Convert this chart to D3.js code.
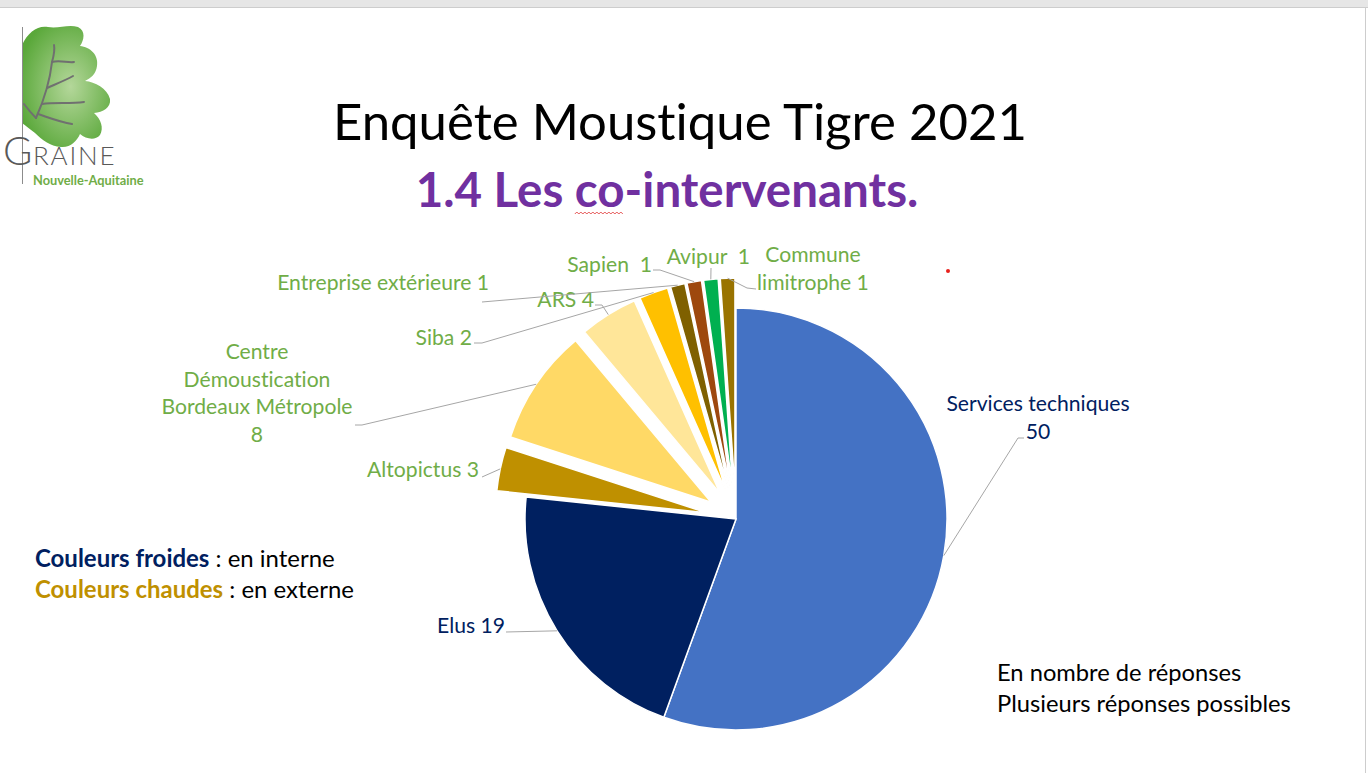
<!DOCTYPE html>
<html>
<head>
<meta charset="utf-8">
<script src="https://cdn.jsdelivr.net/npm/d3@7"></script>
<style>
html, body { margin: 0; padding: 0; background: #fff; overflow: hidden; }
svg { display: block; }
text { font-variant-ligatures: none; font-feature-settings: "liga" 0, "clig" 0, "dlig" 0; }
</style>
</head>
<body>
<svg id="chart" width="1368" height="773"></svg>
<script>
// ---- data ----
const categories = ["Services techniques", "Elus", "Altopictus", "Centre Démoustication Bordeaux Métropole",
  "ARS", "Siba", "Entreprise extérieure", "Sapien", "Avipur", "Commune limitrophe"];
const values = [50, 19, 3, 8, 4, 2, 1, 1, 1, 1];
const labelNames = [["Services techniques"], ["Elus"], ["Altopictus"], ["Centre", "Démoustication", "Bordeaux Métropole"],
  ["ARS"], ["Siba"], ["Entreprise extérieure"], ["Sapien "], ["Avipur "], ["Commune", "limitrophe"]];
const valueOnOwnLine = [true, false, false, true, false, false, false, false, false, false];
const internal = [true, true, false, false, false, false, false, false, false, false];

const titleText = "Enquête Moustique Tigre 2021";
const subtitleText = "1.4 Les co-intervenants.";
const noteLines = ["En nombre de réponses", "Plusieurs réponses possibles"];

// ---- layout ----
const W = 1368, H = 773;
const cx = 736, cy = 519, R = 211, explode = 30;
const FONT = "Lato, 'Open Sans', sans-serif";

const color = d3.scaleOrdinal()
  .domain(categories)
  .range(["#4472C4", "#002060", "#BF9000", "#FFD966", "#FFE699", "#FFC000", "#7F6000", "#9E480E", "#00B050", "#997300"]);

// label placement: anchor, x, first baseline, elbow points near the text
const labelLayout = [
  { anchor: "middle", x: 1038, y: 411, pts: [[1024, 438], [1018, 438]] },
  { anchor: "end",    x: 505,  y: 633, pts: [[506, 632]] },
  { anchor: "end",    x: 479,  y: 477, pts: [[482, 477]] },
  { anchor: "middle", x: 257,  y: 359, pts: [[355, 425], [362, 425]] },
  { anchor: "end",    x: 594,  y: 307, pts: [[595, 305], [602, 305]] },
  { anchor: "end",    x: 472,  y: 345, pts: [[474, 343], [482, 343]] },
  { anchor: "end",    x: 489,  y: 290, pts: [[482, 302]] },
  { anchor: "end",    x: 652,  y: 272, pts: [[653, 270], [660, 270]] },
  { anchor: "end",    x: 750,  y: 264, pts: [[711, 268]] },
  { anchor: "middle", x: 813,  y: 262, pts: [[756, 289], [747, 288]] }
];
const lineH = 27.5;

const svg = d3.select("#chart");
svg.append("rect").attr("width", W).attr("height", H).attr("fill", "#fff");

// window chrome
svg.append("rect").attr("x", 0).attr("y", 0).attr("width", W).attr("height", 7).attr("fill", "#e6e6e6");
svg.append("line").attr("x1", 0).attr("x2", W).attr("y1", 7.5).attr("y2", 7.5).attr("stroke", "#cdcdcd");
svg.append("line").attr("x1", 1365.5).attr("x2", 1365.5).attr("y1", 7).attr("y2", H).attr("stroke", "#cdcdcd");

// helper: font size so a string reaches a target width
function fitSize(str, target, weight) {
  const t = svg.append("text").attr("font-family", FONT).attr("font-weight", weight || 400)
    .attr("font-size", 100).text(str);
  const w = t.node().getComputedTextLength();
  t.remove();
  return 100 * target / w;
}

// ---- logo ----
const logo = svg.append("g");
const grad = svg.append("defs").append("radialGradient").attr("id", "leafGrad")
  .attr("cx", "55%").attr("cy", "50%").attr("r", "60%");
grad.append("stop").attr("offset", "0%").attr("stop-color", "#b4d79a");
grad.append("stop").attr("offset", "100%").attr("stop-color", "#5aa83a");
logo.append("path")
  .attr("d", "M22,45 C28,32 38,25 48,27 C58,29 68,24 78,27 C86,31 84,40 80,46 C90,47 99,55 97,66 C96,74 91,78 85,81 C95,82 107,88 110,99 C111,108 103,112 94,113 C101,119 104,128 100,135 C95,141 86,139 80,134 C77,141 70,148 61,147 C50,146 42,140 35,133 C30,129 26,126 22,123 Z")
  .attr("fill", "url(#leafGrad)");
logo.append("line").attr("x1", 22.5).attr("x2", 22.5).attr("y1", 27).attr("y2", 184)
  .attr("stroke", "#8c8c8c").attr("stroke-width", 1);
const vein = "#707070";
[
  "M36,118 C44,100 50,80 52,62 C54,55 55,50 54,45",
  "M52,62 C60,60 68,63 74,62",
  "M47,88 C56,84 66,80 73,76",
  "M42,104 C55,102 70,104 84,102",
  "M38,114 C50,118 60,122 72,124",
  "M36,118 C30,112 27,108 24,104"
].forEach(d => logo.append("path").attr("d", d).attr("fill", "none")
  .attr("stroke", vein).attr("stroke-width", 2).attr("stroke-linecap", "round"));
logo.append("text").attr("x", 3).attr("y", 165).attr("font-family", FONT).attr("font-weight", 300)
  .attr("font-size", 40).attr("fill", "#595959").text("G");
logo.append("text").attr("x", 33).attr("y", 165).attr("font-family", FONT).attr("font-weight", 300)
  .attr("font-size", 26).attr("fill", "#595959").attr("letter-spacing", 1.8).text("RAINE");
logo.append("text").attr("x", 33).attr("y", 185).attr("font-family", FONT).attr("font-weight", 700)
  .attr("font-size", 12.8).attr("fill", "#70AD47").text("Nouvelle-Aquitaine");

// ---- titles ----
svg.append("text").attr("x", 680).attr("y", 140).attr("text-anchor", "middle")
  .attr("font-family", FONT).attr("font-size", fitSize(titleText, 694)).attr("fill", "#000")
  .text(titleText);
const sub = svg.append("text").attr("x", 667).attr("y", 207).attr("text-anchor", "middle")
  .attr("font-family", FONT).attr("font-weight", 700).attr("font-size", fitSize(subtitleText, 503, 700))
  .attr("fill", "#7030A0").text(subtitleText);

// spell-check squiggle under "co"
{
  const n = sub.node();
  const i0 = subtitleText.indexOf("co");
  const p0 = n.getStartPositionOfChar(i0);
  const len = n.getSubStringLength(i0, 2);
  const pts = d3.range(0, Math.floor(len / 2) + 1).map(k => [p0.x + k * 2, 213 + (k % 2 ? -1 : 1)]);
  svg.append("path").attr("d", d3.line()(pts)).attr("fill", "none").attr("stroke", "#e03030").attr("stroke-width", 0.8);
}
svg.append("circle").attr("cx", 948).attr("cy", 271).attr("r", 2).attr("fill", "#e8201c");

// ---- pie ----
const pie = d3.pie().sort(null).value(d => d.value).startAngle(0).endAngle(2 * Math.PI);
const arcs = pie(categories.map((c, i) => ({ name: c, value: values[i], i })));
const arc = d3.arc().innerRadius(0).outerRadius(R);
const offsetOf = d => {
  const mid = (d.startAngle + d.endAngle) / 2;
  const e = internal[d.data.i] ? 0 : explode;
  return [e * Math.sin(mid), -e * Math.cos(mid)];
};

const g = svg.append("g").attr("transform", `translate(${cx},${cy})`);
g.selectAll("path.slice")
  .data(arcs)
  .enter()
  .append("path")
  .attr("class", "slice")
  .attr("transform", d => `translate(${offsetOf(d)})`)
  .attr("d", arc)
  .attr("fill", d => color(d.data.name))
  .attr("stroke", "#fff")
  .attr("stroke-width", 1.5);

// leader lines and labels
const labelFs = fitSize("Entreprise extérieure 1", 212);
arcs.forEach(d => {
  const i = d.data.i;
  const mid = (d.startAngle + d.endAngle) / 2;
  const [ox, oy] = offsetOf(d);
  const start = [cx + ox + R * Math.sin(mid), cy + oy - R * Math.cos(mid)];
  const L = labelLayout[i];
  const pts = L.pts.concat([start]);
  svg.append("path").attr("d", d3.line()(pts)).attr("fill", "none")
    .attr("stroke", "#a6a6a6").attr("stroke-width", 1);

  const lines = labelNames[i].slice();
  if (valueOnOwnLine[i]) lines.push(String(values[i]));
  else lines[lines.length - 1] = lines[lines.length - 1] + " " + values[i];
  const t = svg.append("text")
    .attr("font-family", FONT).attr("font-size", labelFs)
    .attr("text-anchor", L.anchor)
    .attr("fill", internal[i] ? "#002060" : "#70AD47")
    .style("white-space", "pre");
  lines.forEach((s, k) => t.append("tspan").attr("x", L.x).attr("y", L.y + k * lineH).text(s));
});

// ---- legend ----
const legFs = fitSize("Couleurs chaudes : en externe", 317);
[["Couleurs froides", " : en interne", "#002060", 567], ["Couleurs chaudes", " : en externe", "#BF9000", 598]]
  .forEach(([a, b, c, y]) => {
    const t = svg.append("text").attr("x", 35).attr("y", y).attr("font-family", FONT).attr("font-size", legFs)
      .style("white-space", "pre");
    t.append("tspan").attr("font-weight", 700).attr("fill", c).text(a);
    t.append("tspan").attr("fill", "#000").text(b);
  });

// ---- note ----
const noteFs = fitSize(noteLines[1], 294);
noteLines.forEach((s, k) => svg.append("text").attr("x", 997).attr("y", 681 + k * 31)
  .attr("font-family", FONT).attr("font-size", noteFs).attr("fill", "#000").text(s));
</script>
</body>
</html>
